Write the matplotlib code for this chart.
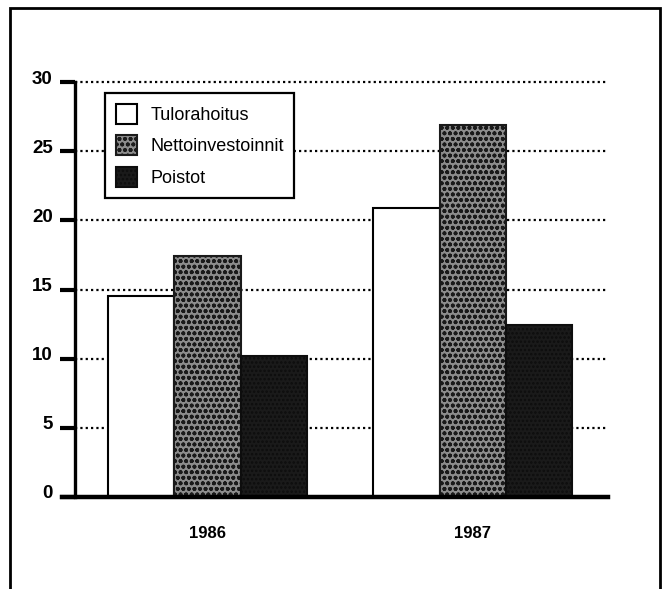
import matplotlib
matplotlib.use("Agg")
import matplotlib.pyplot as plt
import matplotlib.transforms as mtransforms
import numpy as np
from matplotlib.patches import Rectangle

plt.rcParams['font.family'] = ['Liberation Sans', 'DejaVu Sans']
plt.rcParams['hatch.linewidth'] = 1.2

years = ["1986", "1987"]
series = ["Tulorahoitus", "Nettoinvestoinnit", "Poistot"]
tulorahoitus = [14.5, 20.9]
nettoinvestoinnit = [17.4, 26.9]
poistot = [10.2, 12.4]
yticks = [0, 5, 10, 15, 20, 25, 30]

fig = plt.figure(figsize=(6.69, 5.89), dpi=100)
ax = fig.add_axes([75/669, 1-497/589, (608-75)/669, (497-82)/589])

x = np.arange(len(years))
w = 0.25
styles = [
    dict(facecolor="white", edgecolor="black", hatch=None),
    dict(facecolor="#8c8c8c", edgecolor="#1a1a1a", hatch="ooo"),
    dict(facecolor="#1a1a1a", edgecolor="#0d0d0d", hatch="...."),
]
handles = []
for i, (vals, st) in enumerate(zip([tulorahoitus, nettoinvestoinnit, poistot], styles)):
    b = ax.bar(x + (i - 1) * w, vals, width=w, linewidth=1.5, zorder=3, label=series[i], **st)
    handles.append(b)

ax.set_xlim(-0.5, 1.51)
ax.set_ylim(0, 30)
ax.set_yticks(yticks)
ax.set_yticklabels([str(t) for t in yticks], fontsize=13.5, fontweight="bold")
ax.set_xticks(x)
ax.set_xticklabels(years, fontsize=12, fontweight="bold")
ax.tick_params(axis="x", length=0, pad=21)
ax.tick_params(axis="y", length=11, width=3, pad=5, direction="out")
off = mtransforms.ScaledTranslation(0, 5/100, fig.dpi_scale_trans)
for lab in ax.get_yticklabels():
    lab.set_transform(lab.get_transform() + off)
for t in yticks[1:]:
    ax.axhline(t, color="black", linestyle=(0, (1.0, 1.4)), linewidth=1.6, zorder=1,
               clip_on=False)
for s in ["top", "right"]:
    ax.spines[s].set_visible(False)
ax.spines["left"].set_linewidth(2.4)
ax.spines["bottom"].set_linewidth(3.2)
ax.spines["bottom"].set_bounds(-0.55, 1.51)
ax.spines["bottom"].set_zorder(4)

leg = fig.legend(handles=handles, loc="upper left",
                 bbox_to_anchor=(105/669, 1-93/589), frameon=True,
                 fancybox=False, edgecolor="black", framealpha=1,
                 fontsize=13, handlelength=1.15, handleheight=1.3,
                 handletextpad=0.75, labelspacing=0.65, borderpad=0.6,
                 borderaxespad=0)
leg.get_frame().set_linewidth(1.6)

fig.patches.append(Rectangle((10/669, -0.02), 650/669, 1.02-8/589,
                             transform=fig.transFigure, fill=False,
                             edgecolor="black", linewidth=2))
fig.savefig("out.png", dpi=100)
